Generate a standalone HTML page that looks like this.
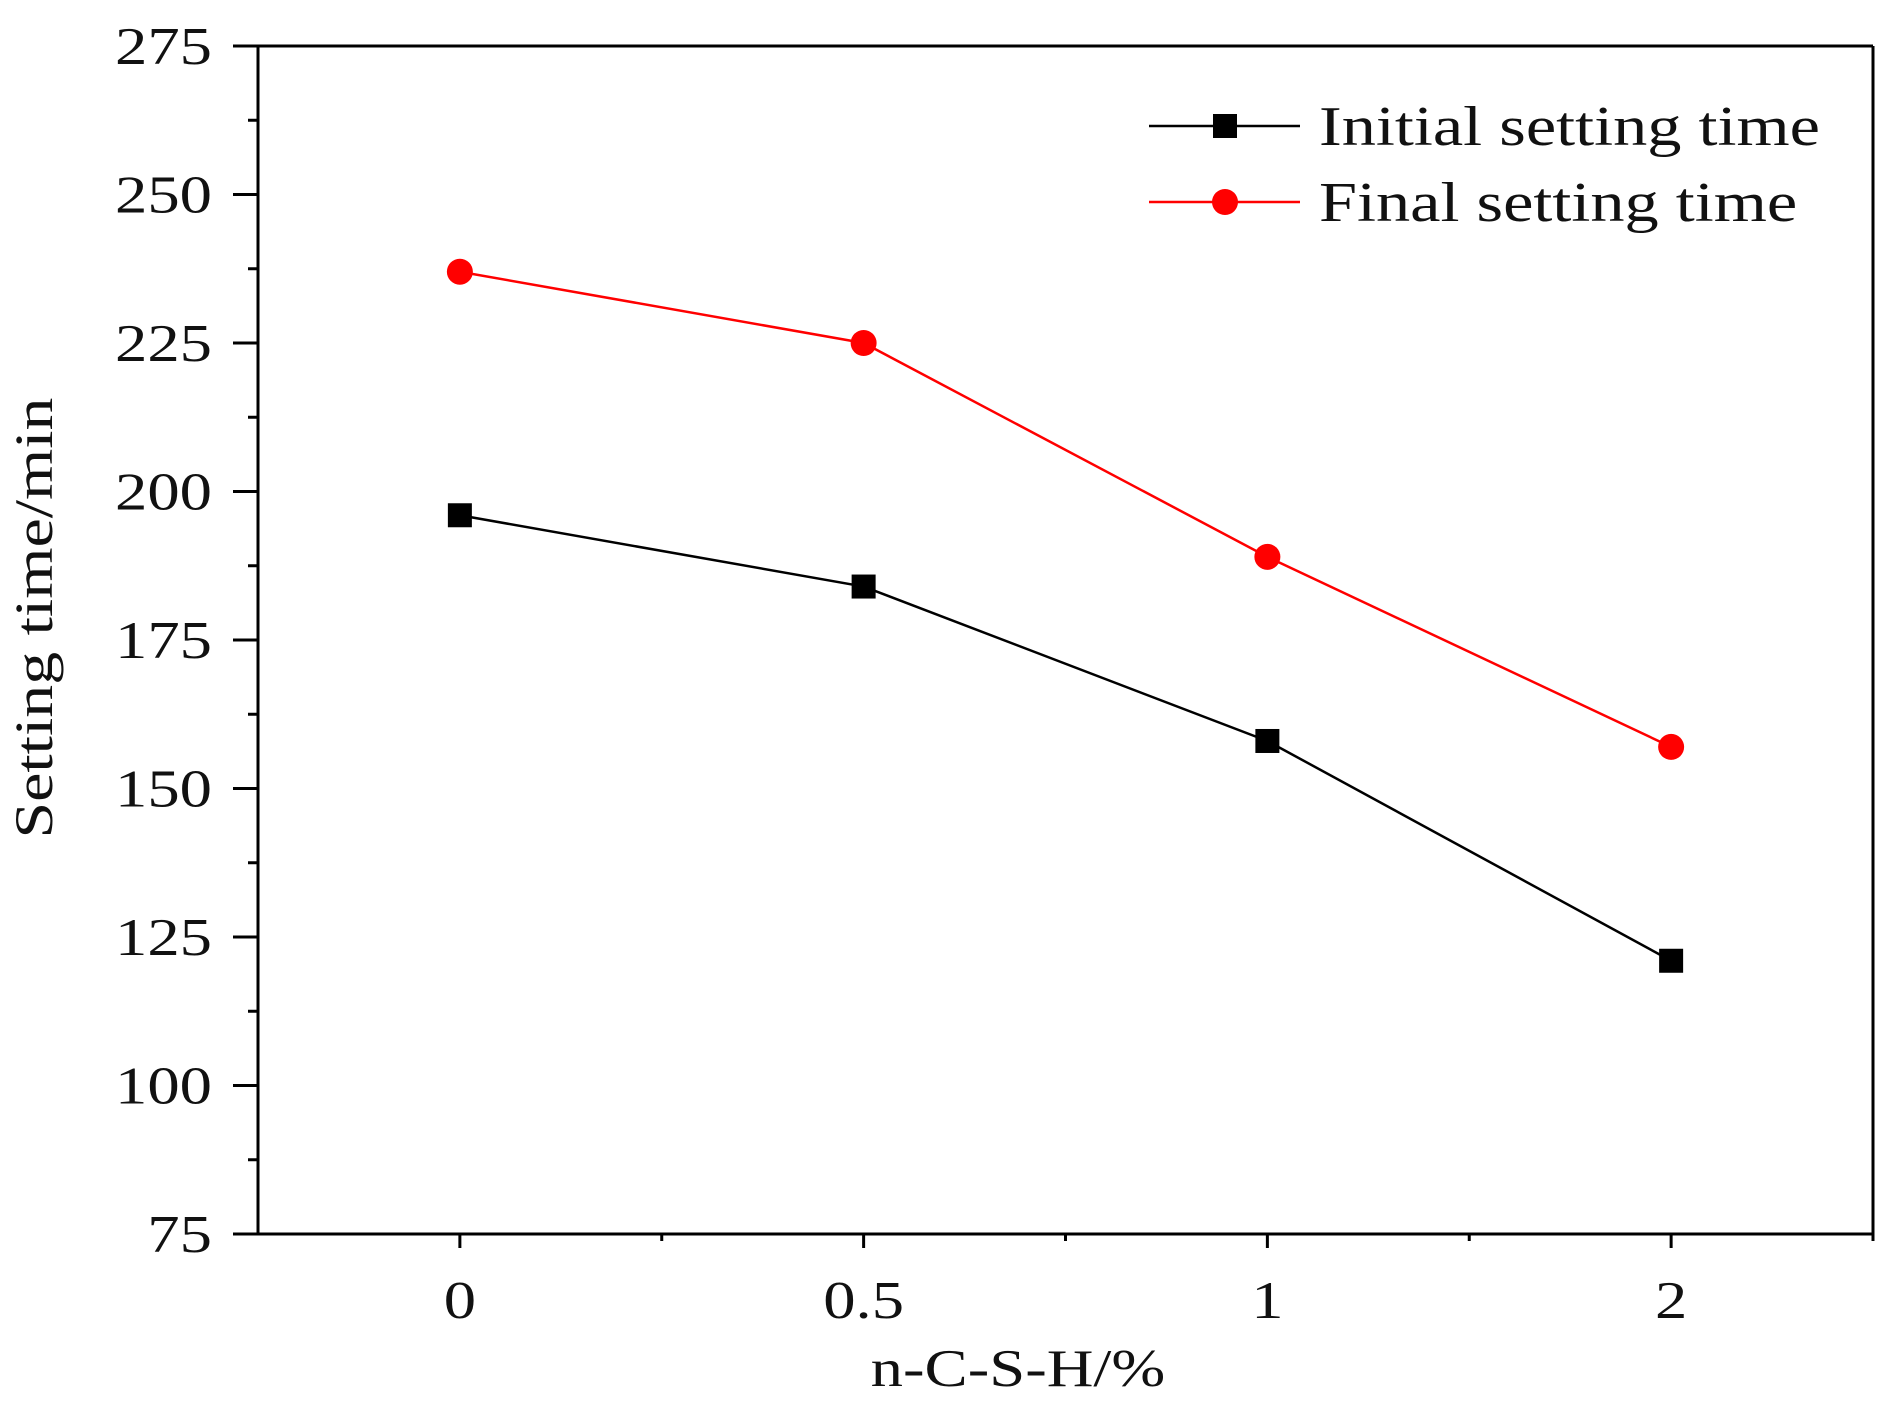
<!DOCTYPE html>
<html><head><meta charset="utf-8"><style>
html,body{margin:0;padding:0;background:#fff;}
svg text{font-family:"Liberation Serif",serif;fill:#111;}
</style></head><body>
<svg id="chart" width="1901" height="1412" viewBox="0 0 1901 1412" xmlns="http://www.w3.org/2000/svg">
<g id="axes"></g>
<g id="series"></g>
<g>
  <line x1="1149" y1="126" x2="1300" y2="126" stroke="#000" stroke-width="2.5"/>
  <rect x="1213" y="114" width="24" height="24" fill="#000"/>
  <text x="1319" y="145" font-size="56">Initial setting time</text>
  <line x1="1149" y1="202" x2="1300" y2="202" stroke="#ff0000" stroke-width="2.5"/>
  <circle cx="1225" cy="202" r="13" fill="#ff0000"/>
  <text x="1319" y="221" font-size="56">Final setting time</text>
</g>
<text x="52" y="618" font-size="54" text-anchor="middle" transform="rotate(-90 52 618)">Setting time/min</text>
<text x="1018" y="1386" font-size="53" text-anchor="middle">n-C-S-H/%</text>
</svg>
<script>
const categories = ["0","0.5","1","2"];
const initialValues = [196,184,158,121];
const finalValues = [237,225,189,157];
const yTicks = [75,100,125,150,175,200,225,250,275];

const NS="http://www.w3.org/2000/svg";
const L=258,R=1873,T=46,B=1234;
const yMin=75,yMax=275;
function y(v){return B-(v-yMin)/(yMax-yMin)*(B-T);}
function x(i){return L+(i+0.5)/(categories.length)*(R-L);}
function mk(tag,attrs,parent){const e=document.createElementNS(NS,tag);for(const k in attrs)e.setAttribute(k,attrs[k]);parent.appendChild(e);return e;}
const axes=document.getElementById('axes');
let a=mk('path',{d:`M${R},${T} H${L-25} M${L},${T} V${B} M${L-25},${B} H${R} V${T}`,fill:'none',stroke:'#000','stroke-width':3},axes);


yTicks.forEach((v,i)=>{
  const t=mk('line',{x1:L-25,x2:L,y1:y(v),y2:y(v),stroke:'#000','stroke-width':3},axes);
  
  
  if(i<yTicks.length-1){
    const m=mk('line',{x1:L-10,x2:L,y1:y(v+12.5),y2:y(v+12.5),stroke:'#000','stroke-width':3},axes);
    
    
  }
  const tx=mk('text',{x:212,y:y(v)+18,'font-size':53,'text-anchor':'end'},axes);
  tx.textContent=v;
  
  
});
categories.forEach((c,i)=>{
  const t=mk('line',{x1:x(i),x2:x(i),y1:B,y2:B+14,stroke:'#000','stroke-width':3},axes);
  
  
  const m=mk('line',{x1:x(i+0.5),x2:x(i+0.5),y1:B,y2:B+7,stroke:'#000','stroke-width':3},axes);
  
  
  const tx=mk('text',{x:x(i),y:B+84,'font-size':53,'text-anchor':'middle'},axes);
  tx.textContent=c;
  
  
});
const series=document.getElementById('series');
function drawSeries(vals,color,shape,name){
  const pl=mk('polyline',{points:vals.map((v,i)=>x(i)+','+y(v)).join(' '),fill:'none',stroke:color,'stroke-width':2.5},series);
  
  
  vals.forEach((v,i)=>{
    let p;
    if(shape==='sq') p=mk('rect',{x:x(i)-12,y:y(v)-12,width:24,height:24,fill:color},series);
    else p=mk('circle',{cx:x(i),cy:y(v),r:13,fill:color},series);
    
    
  });
}
drawSeries(initialValues,'#000','sq','initial-setting');
drawSeries(finalValues,'#ff0000','ci','final-setting');
document.querySelectorAll('#chart text').forEach(t=>{
  const len=t.getComputedTextLength();
  t.setAttribute('textLength',(len*1.22).toFixed(1));
  t.setAttribute('lengthAdjust','spacingAndGlyphs');
});
</script>
</body></html>
